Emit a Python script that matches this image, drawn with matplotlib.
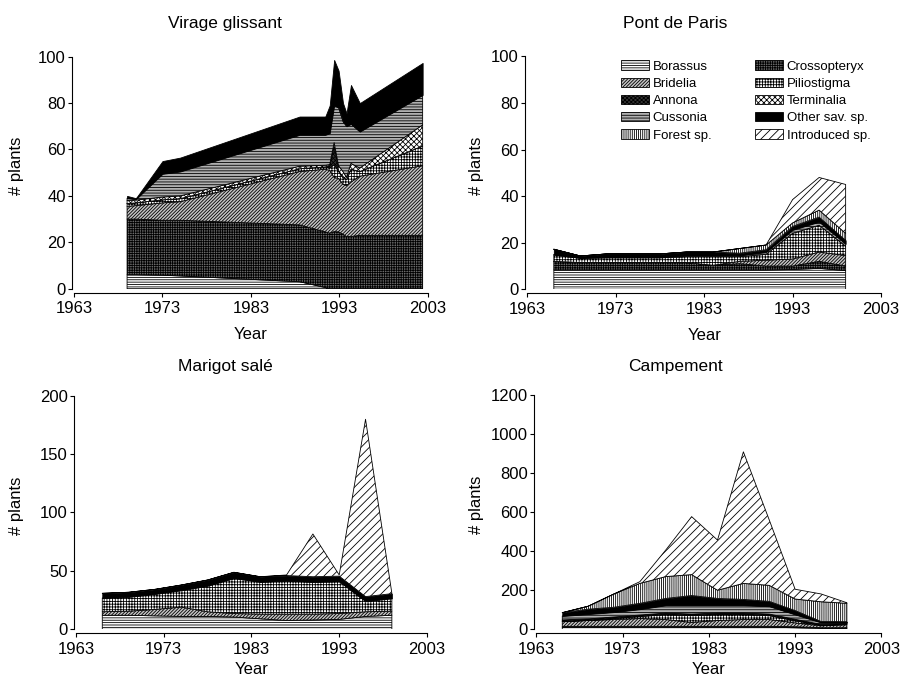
import matplotlib.pyplot as plt
import numpy as np
from matplotlib.patches import Patch

plt.rcParams['font.family'] = ['Liberation Sans', 'DejaVu Sans']
plt.rcParams['hatch.linewidth'] = 0.6

# legend order (two columns, filled column by column)
legend_order = ['Borassus', 'Bridelia', 'Annona', 'Cussonia', 'Forest sp.',
                'Crossopteryx', 'Piliostigma', 'Terminalia', 'Other sav. sp.',
                'Introduced sp.']
# order of the layers from bottom to top
stack_order = ['Borassus', 'Crossopteryx', 'Bridelia', 'Piliostigma', 'Annona',
               'Terminalia', 'Cussonia', 'Other sav. sp.', 'Forest sp.',
               'Introduced sp.']

# ---- Virage glissant ----
vg_years = [1969, 1970, 1973, 1975, 1988.5, 1991.4, 1991.9, 1992.4, 1992.9,
            1993.4, 1993.8, 1994.3, 1995.3, 2002.4]
vg_borassus = [6, 6, 5.8, 5.5, 3, 0.5, 0, 0, 0, 0, 0, 0, 0, 0]
vg_crossopteryx = [24, 24, 23.7, 24, 24.5, 24, 24, 24.6, 24.5, 23.5, 22.5, 22.5, 23, 23]
vg_bridelia = [5.5, 5.8, 7.5, 8, 23, 27, 27, 23.4, 23, 21.5, 22, 23.5, 25.5, 30]
vg_piliostigma = [1.2, 1.2, 1.3, 1.3, 1.2, 1, 1, 5.5, 3, 3, 2.5, 5.5, 2, 8.5]
vg_annona = [0, 0, 0, 0, 0, 0, 1, 7.5, 0.5, 0, 0, 0, 0, 0]
vg_terminalia = [1.3, 1.2, 1.2, 1.2, 1.1, 0.7, 0.5, 2, 2, 2.5, 1, 2.5, 1.5, 9.1]
vg_cussonia = [1, 0.4, 10, 10.5, 13.5, 13.1, 13.5, 16, 25, 21.5, 22, 17, 15.7, 12.9]
vg_other = [1, 0.4, 5.5, 6, 7.9, 7.9, 12, 19.6, 16, 8, 5.6, 16.8, 12.3, 13.8]

# ---- Pont de Paris ----
pp_years = [1966, 1969, 1972, 1975, 1978, 1981, 1984, 1987, 1990, 1993, 1996, 1999]
pp_borassus = [8.3, 8.3, 8.3, 8.3, 8.3, 8.3, 8.3, 8.3, 8.3, 8.5, 9, 8]
pp_crossopteryx = [3.7, 3.2, 3.2, 3.2, 3.2, 3.2, 2, 2.7, 1.7, 1.5, 3, 2]
pp_bridelia = [0, 0, 0, 0, 0, 0, 0, 1, 2.5, 3, 4, 4.5]
pp_piliostigma = [2.7, 1.8, 2, 2, 2, 2.5, 3.7, 2, 2.5, 11, 11.5, 4]
pp_cussonia = [0.3, 0.2, 0.3, 0.3, 0.3, 0.5, 0.5, 0.5, 1, 1.5, 1.5, 1]
pp_other = [2.2, 0.8, 1.4, 1.4, 1.4, 1.5, 1.5, 1, 1, 1.5, 2, 1.5]
pp_forest = [0, 0, 0, 0, 0, 0, 0, 2, 2, 1.5, 3, 3]
pp_introduced = [0, 0, 0, 0, 0, 0, 0, 0, 0, 10, 14, 21]

# ---- Marigot salé ----
ms_years = [1966, 1969, 1972, 1975, 1978, 1981, 1984, 1987, 1990, 1993, 1996, 1999]
ms_borassus = [12, 12, 11.5, 11, 11, 10.5, 9, 7.5, 8, 8.5, 11, 12]
ms_bridelia = [3, 3.5, 5.5, 8, 4, 3, 4, 5.5, 5, 5, 4, 3.5]
ms_piliostigma = [11.8, 12.2, 13.2, 14.4, 22.2, 30.3, 27.5, 28.5, 27.5, 27.5, 9, 11]
ms_other = [4, 4, 4, 4.5, 5, 5, 4.5, 4.5, 4.5, 4.5, 4, 4]
ms_introduced = [0, 0, 0, 0, 0, 0, 0, 0.5, 36.6, 1, 151.8, 0.3]

# ---- Campement ----
ca_years = [1966, 1969, 1972, 1975, 1978, 1981, 1984, 1987, 1990, 1993, 1996, 1999]
ca_borassus = [10, 10, 10, 10, 10, 10, 10, 10, 10, 8, 5, 5]
ca_crossopteryx = [5, 5, 5, 5, 5, 5, 5, 5, 5, 5, 3, 3]
ca_bridelia = [25, 30, 35, 40, 35, 20, 30, 35, 35, 20, 10, 15]
ca_piliostigma = [0, 0, 5, 10, 25, 35, 30, 25, 20, 10, 3, 2]
ca_annona = [5, 5, 5, 5, 5, 5, 5, 5, 5, 5, 2, 2]
ca_terminalia = [3, 3, 3, 3, 3, 3, 3, 3, 3, 3, 2, 2]
ca_cussonia = [20, 25, 25, 30, 40, 45, 40, 40, 40, 25, 10, 5]
ca_other = [17, 25, 25, 30, 35, 50, 35, 30, 25, 20, 5, 5]
ca_forest = [0, 15, 68, 102, 112, 107, 42, 82, 82, 59, 101, 94]
ca_introduced = [0, 0, 0, 9, 136, 297, 257, 674, 335, 50, 40, 3]

panels = [
    ('Virage glissant', vg_years, {
        'Borassus': vg_borassus, 'Crossopteryx': vg_crossopteryx,
        'Bridelia': vg_bridelia, 'Piliostigma': vg_piliostigma,
        'Annona': vg_annona, 'Terminalia': vg_terminalia,
        'Cussonia': vg_cussonia, 'Other sav. sp.': vg_other},
     [0, 20, 40, 60, 80, 100]),
    ('Pont de Paris', pp_years, {
        'Borassus': pp_borassus, 'Crossopteryx': pp_crossopteryx,
        'Bridelia': pp_bridelia, 'Piliostigma': pp_piliostigma,
        'Cussonia': pp_cussonia, 'Other sav. sp.': pp_other,
        'Forest sp.': pp_forest, 'Introduced sp.': pp_introduced},
     [0, 20, 40, 60, 80, 100]),
    ('Marigot salé', ms_years, {
        'Borassus': ms_borassus, 'Bridelia': ms_bridelia,
        'Piliostigma': ms_piliostigma, 'Other sav. sp.': ms_other,
        'Introduced sp.': ms_introduced},
     [0, 50, 100, 150, 200]),
    ('Campement', ca_years, {
        'Borassus': ca_borassus, 'Crossopteryx': ca_crossopteryx,
        'Bridelia': ca_bridelia, 'Piliostigma': ca_piliostigma,
        'Annona': ca_annona, 'Terminalia': ca_terminalia,
        'Cussonia': ca_cussonia, 'Other sav. sp.': ca_other,
        'Forest sp.': ca_forest, 'Introduced sp.': ca_introduced},
     [0, 200, 400, 600, 800, 1000, 1200]),
]
year_ticks = [1963, 1973, 1983, 1993, 2003]

styles = {
    'Borassus': dict(facecolor='white', hatch='-------'),
    'Bridelia': dict(facecolor='#c4c4c4', hatch='//////////'),
    'Annona': dict(facecolor='#333333', hatch='xxxxxxxx'),
    'Cussonia': dict(facecolor='#b0b0b0', hatch='------'),
    'Forest sp.': dict(facecolor='white', hatch='||||||||'),
    'Crossopteryx': dict(facecolor='#6a6a6a', hatch='+++++++'),
    'Piliostigma': dict(facecolor='white', hatch='++++++'),
    'Terminalia': dict(facecolor='white', hatch='xxxxxx'),
    'Other sav. sp.': dict(facecolor='black', hatch=None),
    'Introduced sp.': dict(facecolor='white', hatch='////'),
}

fig = plt.figure(figsize=(9, 6.82), dpi=100)
boxes = [
    [0.0822, 0.5767, 0.3933, 0.3402],
    [0.5859, 0.5758, 0.3930, 0.3416],
    [0.0844, 0.0773, 0.3900, 0.3425],
    [0.5960, 0.0773, 0.3833, 0.3435],
]
title_pos = [(0.25, 0.966), (0.75, 0.966), (0.25, 0.463), (0.75, 0.463)]
ylab_x = [-0.141, -0.122, -0.148, -0.152]
xlab_pad = [8, 8, 4, 4]

for (title, years, data, yticks), box, tpos, lx, xp in zip(panels, boxes, title_pos,
                                                           ylab_x, xlab_pad):
    ax = fig.add_axes(box)
    x = np.array(years, dtype=float)
    base = np.zeros(len(x))
    for name in stack_order:
        if name not in data:
            continue
        vals = np.array(data[name], dtype=float)
        top = base + vals
        st = styles[name]
        ax.fill_between(x, base, top, facecolor=st['facecolor'],
                        hatch=st['hatch'], edgecolor='black', linewidth=0.6)
        base = top
    ax.set_xlim(1963, 2003)
    ax.set_ylim(0, yticks[-1])
    ax.set_xticks(year_ticks)
    ax.set_yticks(yticks)
    for s in ['top', 'right']:
        ax.spines[s].set_visible(False)
    ax.spines['left'].set_position(('outward', 1.5))
    ax.spines['bottom'].set_position(('outward', 3))
    ax.spines['left'].set_bounds(0, yticks[-1])
    ax.spines['bottom'].set_bounds(1963, 2003)
    ax.tick_params(labelsize=12, length=3, width=0.8)
    ax.tick_params(axis='x', pad=3)
    ax.tick_params(axis='y', pad=1.5)
    ax.set_xlabel('Year', fontsize=12, labelpad=xp)
    ax.set_ylabel('# plants', fontsize=12)
    ax.yaxis.set_label_coords(lx, 0.53)
    ax.patch.set_visible(False)
    fig.text(tpos[0], tpos[1], title, ha='center', va='center', fontsize=12.5)
    if title == 'Pont de Paris':
        handles = [Patch(facecolor=styles[n]['facecolor'], hatch=styles[n]['hatch'],
                         edgecolor='black', linewidth=0.6, label=n)
                   for n in legend_order]
        ax.legend(handles=handles, ncol=2, frameon=False, fontsize=9.5,
                  loc='upper left', bbox_to_anchor=(0.25, 1.005),
                  handlelength=2.1, handleheight=0.7, handletextpad=0.3,
                  labelspacing=0.38, columnspacing=3.3, borderaxespad=0)

fig.savefig('out.png', dpi=100)
